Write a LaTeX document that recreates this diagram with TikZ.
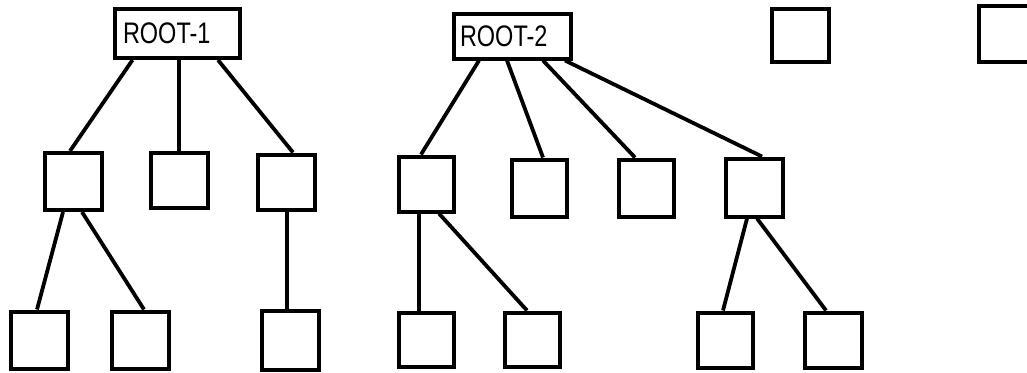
\documentclass[tikz,border=0pt]{standalone}
\usepackage{fontspec}
\setmainfont{Liberation Sans}
\begin{document}
\begin{tikzpicture}[x=1pt,y=-1pt,
  box/.style={draw,line width=4pt,inner sep=0pt,minimum width=57pt,minimum height=57pt},
  rootbox/.style={draw,line width=4pt,inner sep=0pt,font=\fontsize{27}{27}\selectfont},
  link/.style={line width=3.8pt}]
\useasboundingbox (0,0) rectangle (1027,372);
\clip (0,0) rectangle (1027,372);
% left tree
\node[rootbox,minimum width=125pt,minimum height=49pt] (r1) at (177.5,33.5) {\makebox[121pt][l]{\hspace{6pt}\scalebox{0.87}[1.1]{ROOT-1}}};
\node[box] (a) at (73,181.5) {};
\node[box,minimum height=55pt] (b) at (179.5,180) {};
\node[box,minimum height=55pt] (c) at (286.5,182) {};
\node[box] (d) at (39,340) {};
\node[box] (e) at (140.5,340) {};
\node[box,minimum height=59pt] (f) at (290,340) {};
% right tree
\node[rootbox,minimum width=117pt,minimum height=45pt] (r2) at (512.5,36) {\makebox[113pt][l]{\hspace{4pt}\scalebox{0.87}[1.1]{ROOT-2}}};
\node[box,minimum width=55pt,minimum height=55pt] (g) at (426,184) {};
\node[box,minimum width=55pt] (h) at (539,188) {};
\node[box,minimum width=55pt] (i) at (646,188) {};
\node[box,minimum height=58pt] (l) at (754.5,187.5) {};
\node[box,minimum width=55pt,minimum height=54pt] (j) at (426,339.5) {};
\node[box,minimum width=55pt,minimum height=54pt] (k) at (532,339.5) {};
\node[box,minimum width=55pt,minimum height=55pt] (o) at (725.5,340) {};
\node[box,minimum height=55pt] (p) at (833,340) {};
% isolated boxes
\node[box,minimum height=53pt] (m) at (800.5,35) {};
\node[box,minimum height=56pt] (n) at (1007.5,34) {};
% connectors
\draw[link] ([xshift=-45pt]r1.south) -- ([xshift=-3pt]a.north);
\draw[link] ([xshift=1.5pt]r1.south) -- ([xshift=-0.5pt]b.north);
\draw[link] ([xshift=40.5pt]r1.south) -- ([xshift=6.5pt]c.north);
\draw[link] ([xshift=-10pt]a.south) -- ([xshift=-2pt]d.north);
\draw[link] ([xshift=9pt]a.south) -- ([xshift=3.5pt]e.north);
\draw[link] ([xshift=0.5pt]c.south) -- ([xshift=-3pt]f.north);
\draw[link] ([xshift=-33.5pt]r2.south) -- ([xshift=-5pt]g.north);
\draw[link] ([xshift=-5.5pt]r2.south) -- ([xshift=4pt]h.north);
\draw[link] ([xshift=30.5pt]r2.south) -- ([xshift=-11pt]i.north);
\draw[link] ([xshift=52.5pt]r2.south) -- ([xshift=7.5pt]l.north);
\draw[link] ([xshift=-7pt]g.south) -- ([xshift=-7pt]j.north);
\draw[link] ([xshift=13pt]g.south) -- ([xshift=-5pt]k.north);
\draw[link] ([xshift=-7.5pt]l.south) -- ([xshift=-2.5pt]o.north);
\draw[link] ([xshift=2.5pt]l.south) -- ([xshift=-7pt]p.north);
\end{tikzpicture}
\end{document}
